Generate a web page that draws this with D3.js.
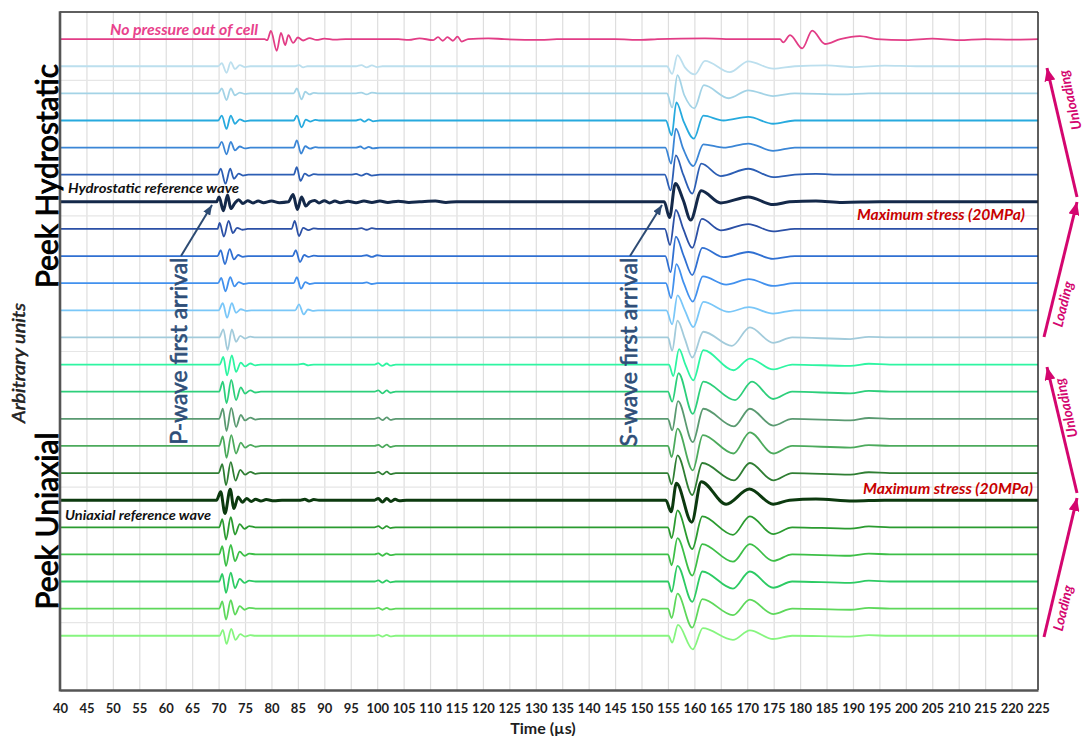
<!DOCTYPE html>
<html>
<head>
<meta charset="utf-8">
<script src="https://cdn.jsdelivr.net/npm/d3@7"></script>
<style>
  body { margin: 0; background: #fff; }
  svg { display: block; }
  text { font-family: Lato, "Open Sans", "DejaVu Sans", sans-serif; }
</style>
</head>
<body>
<svg id="chart" width="1084" height="736"></svg>
<script>
// ---- Time axis (µs) ----
const timeTicks = [40,45,50,55,60,65,70,75,80,85,90,95,100,105,110,115,120,125,130,135,140,145,150,155,160,165,170,175,180,185,190,195,200,205,210,215,220,225];

// ---- Waveforms: [time µs, amplitude a.u.] knots, trace spacing = 100 a.u. ----
const traceNoPressure = [[40,0],[78.7,0],[79.2,-4],[79.9,30],[81.0,-43],[81.8,23],[82.6,-22],[83.2,15],[84.1,-14],[85.0,6],[86.0,-5],[87.2,4],[88.5,-3],[90,2],[92,-2],[94,0],[104,0],[106,-3],[108,3],[110.6,-4],[111.5,7],[112.4,-6],[113.3,7],[114.3,-6],[115.2,9],[116.0,-9],[117.2,0],[121,3],[124,0],[131,-3],[134,0],[145,0],[150,-3],[153,0],[162,3],[166,0],[176.2,0],[176.8,-12],[178.1,15],[180.4,-34],[182.3,31],[184.7,-18],[187.6,0],[191.3,11],[194.5,0],[200,-4],[205,2],[210,-4],[215,0],[220,-2],[225,0]];

// Hydrostatic, unloading (top to reference)
const traceH1 = [[40,0],[69.9,0],[70.6,11],[71.5,-24],[72.3,15],[73.1,-10],[74,4],[75,-3],[76,0],[84.5,0],[85.2,4],[86,-4],[86.8,0],[96,0],[97,4],[98,-4],[99,3],[100,-3],[101,0],[154.8,0],[155.8,-28],[156.8,41],[158.2,-4],[160.1,-30],[162,20],[166.7,-22],[170.2,18],[174.9,-9],[179,0],[185,3],[190,-3],[196,2],[202,0],[225,0]];
const traceH2 = [[40,0],[69.9,0],[70.6,18],[71.5,-25],[72.3,18],[73.1,-7],[74,3],[75,-2],[76,0],[84.2,0],[84.8,18],[85.7,-22],[86.4,6],[87.2,-4],[88,2],[89,0],[96,0],[97,3],[98,-4],[99,3],[100,0],[154.8,0],[155.8,-52],[156.8,67],[158.1,-7],[160,-55],[161.8,30],[166.5,-18],[170.2,11],[174.9,-10],[179,0],[188,-4],[193,0],[225,0]];
const traceH3 = [[40,0],[69.9,0],[70.6,18],[71.5,-31],[72.3,18],[73.1,-12],[74,4],[75,-3],[76,0],[84.2,0],[84.8,18],[85.7,-25],[86.5,3],[87.3,-4],[88.3,2],[89,0],[96,0],[96.8,4],[97.6,-4],[98.4,4],[99.2,-3],[100.5,0],[154.6,0],[155.7,-55],[156.6,67],[158,-5],[159.9,-67],[161.7,18],[165.5,0],[170.2,13],[174.9,-12],[179,0],[225,0]];
const traceH4 = [[40,0],[69.9,0],[70.6,21],[71.5,-25],[72.3,21],[73.1,-10],[74,4],[75,-3],[76,0],[84.2,0],[84.8,27],[85.6,-22],[86.4,5],[87.3,-4],[88.3,2],[89,0],[96,0],[96.8,4],[97.6,-4],[98.4,3],[99.2,-3],[100.5,0],[154.5,0],[155.6,-59],[156.5,70],[157.9,-5],[159.8,-68],[161.7,12],[165.5,0],[170.2,15],[174.9,-12],[179,0],[225,0]];
const traceH5 = [[40,0],[69.8,0],[70.4,22],[71.3,-33],[72.2,22],[72.9,-15],[73.8,4],[74.6,-3],[75.6,0],[84.2,0],[84.8,28],[85.5,-23],[86.3,4],[87.1,-4],[88,2],[89,0],[95,0],[96,3],[97,-3],[98,4],[99,-3],[100.5,0],[154.4,0],[155.5,-58],[156.5,71],[157.9,0],[159.6,-70],[161.3,41],[165,-5],[170.2,22],[174.9,-9],[179,0],[183,3],[188,0],[225,0]];
// Hydrostatic reference wave (maximum stress)
const traceHRef = [[40,0],[69.6,0],[70.1,18],[70.9,-33],[71.7,25],[72.3,-25],[73.1,-4],[73.8,8],[74.6,-6],[75.5,4],[76.5,-4],[77.5,3],[78.5,-3],[80,3],[81.5,-3],[83.2,0],[84.1,27],[84.9,-28],[85.7,18],[86.5,-15],[87.3,0],[88.2,5],[89,-4],[90,4],[91,-4],[92,3],[93,-3],[94.5,2],[96,-3],[97.5,3],[99,-2],[100.5,3],[102,-2],[104,2],[106,-2],[108,0],[111,3],[113,-2],[115,0],[154.3,0],[155.3,-58],[156.4,68],[157.9,6],[159.3,-67],[161.3,41],[165,-4],[170.2,18],[174.9,-10],[178,0],[183,3],[188,-2],[195,0],[225,0]];
// Hydrostatic, loading (reference down)
const traceHL1 = [[40,0],[69.8,0],[70.2,22],[71.0,-28],[71.9,30],[72.7,-15],[73.5,4],[74.5,-3],[75.5,0],[83.8,0],[84.4,30],[85.2,-26],[86,4],[87,-4],[88,2],[89,0],[96,0],[97,3],[98,-3],[99,3],[100,0],[154.4,0],[155.4,-59],[156.5,70],[157.9,0],[159.6,-70],[161.4,37],[165,-5],[170.2,18],[174.9,-9],[179,0],[225,0]];
const traceHL2 = [[40,0],[69.8,0],[70.4,22],[71.2,-30],[72.1,26],[72.9,-12],[73.7,4],[74.6,-3],[75.6,0],[84,0],[84.6,22],[85.4,-22],[86.2,4],[87,-3],[88,2],[89,0],[97,0],[98,3],[99,-3],[100,3],[101,0],[154.5,0],[155.5,-59],[156.5,72],[158,0],[159.6,-70],[161.5,30],[165.5,-4],[170.2,15],[174.9,-10],[179,0],[225,0]];
const traceHL3 = [[40,0],[69.9,0],[70.5,20],[71.3,-30],[72.2,22],[73,-12],[73.8,4],[74.7,-3],[75.7,0],[84.2,0],[84.8,22],[85.6,-20],[86.4,4],[87.2,-3],[88.2,0],[97,0],[98,3],[99,-3],[100,0],[154.6,0],[155.6,-55],[156.6,70],[158,0],[159.7,-68],[161.6,25],[166,-5],[170.3,15],[174.9,-10],[179,0],[225,0]];
const traceHL4 = [[40,0],[70,0],[70.8,26],[71.6,-27],[72.5,26],[73.3,-9],[74.2,4],[75.2,-2],[76.2,0],[84.5,0],[85.2,22],[86.1,-15],[86.9,3],[87.8,-2],[88.8,0],[154.7,0],[155.8,-52],[156.8,55],[158.2,0],[159.8,-62],[161.7,31],[166.5,-6],[170.3,12],[174.9,-12],[179,0],[225,0]];
const traceHL5 = [[40,0],[70.1,0],[70.9,30],[71.7,-47],[72.5,30],[73.3,-16],[74.1,6],[75,-4],[76,3],[77,0],[155,0],[155.8,-49],[156.8,62],[158.2,-5],[159.6,-74],[161.7,21],[167.1,-31],[170.5,37],[174.9,-20],[178.5,0],[189.5,-6],[193,2],[197,0],[225,0]];

// Uniaxial, unloading (top to reference)
const traceU1 = [[40,0],[70.2,0],[70.9,28],[71.6,-40],[72.5,34],[73.3,-27],[74.2,7],[75,-7],[76,4],[77,-3],[78,0],[85,0],[86,3],[87,-3],[88,0],[99.5,0],[100.2,5],[101,-5],[101.8,4],[102.5,-4],[103.5,0],[155.2,0],[156.0,-43],[157.1,57],[158.3,0],[159.8,-58],[161.7,53],[167.4,-21],[170.5,22],[174.9,-18],[178.5,0],[189.5,-5],[193,3],[197,0],[225,0]];
const traceU2 = [[40,0],[70.1,0],[70.8,37],[71.5,-43],[72.4,43],[73.3,-31],[74.2,16],[75,-7],[76,5],[77,-3],[78,0],[99.5,0],[100.2,5],[101,-6],[101.8,5],[102.5,-4],[103.5,0],[155,0],[155.8,-37],[157,68],[159.7,-82],[161.7,37],[167.7,-31],[170.9,37],[174.9,-27],[178.5,0],[189.5,-6],[193,3],[197,0],[225,0]];
const traceU3 = [[40,0],[70.1,0],[70.8,37],[71.5,-45],[72.4,40],[73.3,-30],[74.2,14],[75,-6],[76,4],[77,-3],[78,0],[99.5,0],[100.2,4],[101,-5],[101.8,5],[102.5,-4],[103.5,0],[155,0],[155.8,-43],[156.9,65],[159.7,-86],[161.7,37],[167.5,-28],[170.5,37],[174.9,-25],[178.5,0],[189.5,-6],[193,3],[197,0],[225,0]];
const traceU4 = [[40,0],[70.1,0],[70.8,35],[71.5,-44],[72.4,40],[73.3,-28],[74.2,12],[75,-6],[76,4],[77,-3],[78,0],[99.5,0],[100.2,4],[101,-5],[101.8,5],[102.5,-4],[103.5,0],[155,0],[155.7,-41],[156.8,64],[159.7,-90],[161.6,40],[167.4,-28],[170.5,50],[174.9,-28],[178.5,0],[189.5,-6],[193,3],[197,0],[225,0]];
const traceU5 = [[40,0],[70,0],[70.7,33],[71.4,-45],[72.3,40],[73.2,-28],[74.1,12],[75,-6],[76,4],[77,-3],[78,0],[99.5,0],[100.2,4],[101,-5],[101.8,5],[102.5,-4],[103.5,0],[154.9,0],[155.7,-42],[156.8,65],[159.6,-81],[161.5,37],[167.5,-27],[170.5,37],[174.9,-27],[178.5,0],[189.5,-6],[193,3],[197,0],[225,0]];
// Uniaxial reference wave (maximum stress)
const traceURef = [[40,0],[69.6,0],[70.4,31],[71.2,-49],[72.2,40],[72.9,-31],[73.7,12],[74.5,-8],[75.3,6],[76.2,-5],[77,3],[78,-3],[79,2],[80.5,-2],[82,0],[85.5,0],[86.3,3],[87.1,-3],[88,2],[89,0],[99.5,0],[100.2,6],[101,-7],[101.8,6],[102.6,-5],[103.4,3],[104.2,-2],[105.5,0],[154.6,0],[155.6,-43],[156.6,62],[159.5,-81],[161.3,68],[166,-15],[170.4,41],[174.9,-15],[178,0],[183,4],[190,-3],[196,0],[225,0]];
// Uniaxial, loading (reference down)
const traceUL1 = [[40,0],[70.1,0],[70.7,30],[71.4,-45],[72.3,37],[73.1,-27],[74,12],[74.9,-6],[75.8,4],[77,0],[99.5,0],[100.2,4],[101,-5],[101.8,4],[102.5,-3],[103.5,0],[155,0],[155.7,-40],[156.8,62],[159.6,-80],[161.5,40],[167.3,-28],[170.5,40],[174.9,-25],[178.5,0],[189.5,-5],[193,3],[197,0],[225,0]];
const traceUL2 = [[40,0],[70.1,0],[70.7,30],[71.4,-43],[72.3,35],[73.1,-25],[74,10],[74.9,-5],[75.8,3],[77,0],[99.5,0],[100.2,4],[101,-5],[101.8,4],[102.5,-3],[103.5,0],[155,0],[155.7,-40],[156.8,60],[159.6,-78],[161.5,38],[167.3,-27],[170.5,38],[174.9,-24],[178.5,0],[189.5,-5],[193,3],[197,0],[225,0]];
const traceUL3 = [[40,0],[70.1,0],[70.7,28],[71.4,-42],[72.3,33],[73.1,-24],[74,10],[74.9,-5],[75.8,3],[77,0],[99.5,0],[100.2,4],[101,-4],[101.8,4],[102.5,-3],[103.5,0],[155,0],[155.7,-38],[156.8,58],[159.6,-75],[161.5,37],[167.3,-26],[170.5,37],[174.9,-23],[178.5,0],[189.5,-5],[193,3],[197,0],[225,0]];
const traceUL4 = [[40,0],[70.1,0],[70.7,27],[71.4,-40],[72.3,31],[73.1,-22],[74,9],[74.9,-4],[75.8,3],[77,0],[99.5,0],[100.2,3],[101,-4],[101.8,3],[102.5,-3],[103.5,0],[155,0],[155.7,-35],[156.8,55],[159.6,-70],[161.5,35],[167.3,-24],[170.5,33],[174.9,-20],[178.5,0],[189.5,-4],[193,3],[197,0],[225,0]];
const traceUL5 = [[40,0],[70.2,0],[70.8,22],[71.5,-30],[72.4,25],[73.2,-15],[74.1,6],[75,-3],[76,2],[77,0],[99.5,0],[100.2,3],[101,-3],[101.8,3],[102.5,-2],[103.5,0],[155.1,0],[155.8,-25],[156.9,40],[159.7,-50],[161.6,28],[167.3,-15],[170.5,20],[174.9,-12],[178.5,0],[189.5,-3],[193,2],[197,0],[225,0]];

const traces = [traceNoPressure, traceH1, traceH2, traceH3, traceH4, traceH5, traceHRef,
  traceHL1, traceHL2, traceHL3, traceHL4, traceHL5,
  traceU1, traceU2, traceU3, traceU4, traceU5, traceURef,
  traceUL1, traceUL2, traceUL3, traceUL4, traceUL5];
// Vertical offset of each trace (a.u.)
const baselines = [2400, 2300, 2200, 2100, 2000, 1900, 1800, 1700, 1600, 1500, 1400, 1300,
  1200, 1100, 1000, 900, 800, 700, 600, 500, 400, 300, 200];

// ---- Styling ----
const traceColors = ['#e23d86',
  '#bcdfee', '#a3d3e6', '#27aade', '#3b86d6', '#2c5eb4', '#14294a',
  '#2b50a6', '#3070d2', '#4291ee', '#7ac7f8', '#a2cbdb',
  '#2ef5a2', '#2dcf7b', '#5a9a71', '#4caa5c', '#2f7e33', '#0c3a0f',
  '#2b9b30', '#3dbf47', '#2dcb64', '#5ed85b', '#86f57f'];
const refIndex = [6, 17];

const W = 1084, H = 736;
const pLeft = 60, pRight = 1038, pTop = 12, pBottom = 690;
const svg = d3.select('#chart');
svg.append('rect').attr('width', W).attr('height', H).attr('fill', '#fff');

const x = d3.scaleLinear().domain([40, 225]).range([pLeft, pRight]);
const y = d3.scaleLinear().domain([0, 2500]).range([pBottom, pTop]);

const defs = svg.append('defs');
defs.append('clipPath').attr('id', 'plotClip').append('rect')
  .attr('x', pLeft).attr('y', pTop).attr('width', pRight - pLeft).attr('height', pBottom - pTop);
function arrowMarker(id, color, w, h) {
  defs.append('marker').attr('id', id).attr('viewBox', `0 0 ${w} ${h}`)
    .attr('refX', w).attr('refY', h / 2).attr('markerWidth', w).attr('markerHeight', h)
    .attr('markerUnits', 'userSpaceOnUse').attr('orient', 'auto')
    .append('path').attr('d', `M0,0L${w},${h / 2}L0,${h}Z`).attr('fill', color);
}
arrowMarker('headMag', '#d4066f', 13, 11);
arrowMarker('headBlue', '#2d4b73', 10, 8);

// ---- Grid ----
svg.append('g').attr('transform', `translate(0,${pBottom})`)
  .call(d3.axisBottom(x).tickValues(timeTicks.slice(1, -1)).tickSize(-(pBottom - pTop)).tickFormat(''))
  .call(g => g.select('.domain').remove())
  .selectAll('line').attr('stroke', '#dedede').attr('stroke-width', 1.2);
svg.append('g').attr('transform', `translate(${pLeft},0)`)
  .call(d3.axisLeft(y).tickValues([250, 750, 1250, 1750, 2250]).tickSize(-(pRight - pLeft)).tickFormat(''))
  .call(g => g.select('.domain').remove())
  .selectAll('line').attr('stroke', '#e6e6e6').attr('stroke-width', 1.2);

// ---- Waveforms ----
const plot = svg.append('g').attr('clip-path', 'url(#plotClip)');
const order = d3.range(traces.length).filter(i => !refIndex.includes(i)).concat(refIndex);
order.forEach(i => {
  const line = d3.line()
    .x(d => x(d[0]))
    .y(d => y(baselines[i] + d[1]))
    .curve(d3.curveMonotoneX);
  plot.append('path').attr('d', line(traces[i]))
    .attr('fill', 'none').attr('stroke', traceColors[i])
    .attr('stroke-width', refIndex.includes(i) ? 3 : 1.8)
    .attr('stroke-linejoin', 'round');
});

// ---- Frame and axes ----
svg.append('line').attr('x1', pLeft).attr('x2', pRight).attr('y1', pTop).attr('y2', pTop)
  .attr('stroke', '#2a2a2a').attr('stroke-width', 1.5);
svg.append('line').attr('x1', pRight).attr('x2', pRight).attr('y1', pTop).attr('y2', pBottom)
  .attr('stroke', '#2a2a2a').attr('stroke-width', 1.5);
svg.append('line').attr('x1', pLeft).attr('x2', pLeft).attr('y1', pTop - 0.7).attr('y2', pBottom + 1.5)
  .attr('stroke', '#555').attr('stroke-width', 2.6);

const xAxis = svg.append('g').attr('transform', `translate(0,${pBottom})`)
  .call(d3.axisBottom(x).tickValues(timeTicks).tickSize(0).tickPadding(14));
xAxis.select('.domain').attr('stroke', '#555').attr('stroke-width', 2.6);
xAxis.selectAll('text').attr('font-size', 13).attr('font-weight', 700).attr('fill', '#1e1e1e')
  .style('font-family', 'Lato, "Open Sans", sans-serif');

svg.append('text').attr('x', 543).attr('y', 734).attr('text-anchor', 'middle')
  .attr('font-size', 16).attr('font-weight', 700).attr('fill', '#1e1e1e').text('Time (µs)');

// Thickened regular-weight labels (a hairline stroke in the fill colour)
function heavyLabel(txt, tx, ty, size, len, color, italic, strokeW) {
  svg.append('text').attr('transform', `translate(${tx},${ty}) rotate(-90)`).attr('text-anchor', 'middle')
    .attr('font-size', size).attr('fill', color)
    .attr('font-style', italic ? 'italic' : 'normal')
    .attr('stroke', color).attr('stroke-width', strokeW).attr('paint-order', 'stroke')
    .attr('textLength', len).attr('lengthAdjust', 'spacingAndGlyphs').text(txt);
}
heavyLabel('Arbitrary units', 25, 363, 17, 120, '#222', true, 0.5);
heavyLabel('Peek Hydrostatic', 58, 176, 31, 224, '#000', false, 0.9);
heavyLabel('Peek Uniaxial', 58, 521, 31, 177, '#000', false, 0.9);
heavyLabel('P-wave first arrival', 187, 351, 24, 187, '#2e4e78', false, 0.6);
heavyLabel('S-wave first arrival', 637, 352, 24, 189, '#2e4e78', false, 0.6);

// ---- Annotations inside the plot ----
function note(txt, x0, yc, len, color, size) {
  svg.append('text').attr('x', x0).attr('y', yc).attr('dy', '0.35em')
    .attr('font-size', size).attr('font-weight', 700).attr('font-style', 'italic')
    .attr('fill', color).attr('textLength', len).attr('lengthAdjust', 'spacingAndGlyphs').text(txt);
}
note('No pressure out of cell', 110, 30, 148, '#e8428c', 14.5);
note('Hydrostatic reference wave', 68, 188, 171, '#111', 14);
note('Uniaxial reference wave', 65, 515, 146, '#111', 14);
note('Maximum stress (20MPa)', 857, 215, 168, '#c80000', 15);
note('Maximum stress (20MPa)', 863, 489, 170, '#c80000', 15);

svg.append('line').attr('x1', 181).attr('y1', 256).attr('x2', 212).attr('y2', 205)
  .attr('stroke', '#2d4b73').attr('stroke-width', 2).attr('marker-end', 'url(#headBlue)');
svg.append('line').attr('x1', 630).attr('y1', 256).attr('x2', 662).attr('y2', 205)
  .attr('stroke', '#2d4b73').attr('stroke-width', 2).attr('marker-end', 'url(#headBlue)');

// ---- Load path arrows on the right ----
const loadArrows = [
  {x1: 1077, y1: 197, x2: 1047, y2: 68, label: 'Unloading', cx: 1070, cy: 100},
  {x1: 1044, y1: 337, x2: 1077, y2: 202, label: 'Loading', cx: 1063, cy: 304},
  {x1: 1077, y1: 493, x2: 1047, y2: 367, label: 'Unloading', cx: 1066, cy: 408},
  {x1: 1044, y1: 637, x2: 1077, y2: 498, label: 'Loading', cx: 1063, cy: 608}
];
loadArrows.forEach(a => {
  svg.append('line').attr('x1', a.x1).attr('y1', a.y1).attr('x2', a.x2).attr('y2', a.y2)
    .attr('stroke', '#d4066f').attr('stroke-width', 3).attr('marker-end', 'url(#headMag)');
  const ang = Math.atan2(a.y2 - a.y1, a.x2 - a.x1) * 180 / Math.PI;
  svg.append('text').attr('transform', `translate(${a.cx},${a.cy}) rotate(${ang})`)
    .attr('text-anchor', 'middle').attr('dy', '0.35em')
    .attr('font-size', 14).attr('font-weight', 700).attr('font-style', 'italic')
    .attr('fill', '#d4066f').text(a.label);
});
</script>
</body>
</html>
